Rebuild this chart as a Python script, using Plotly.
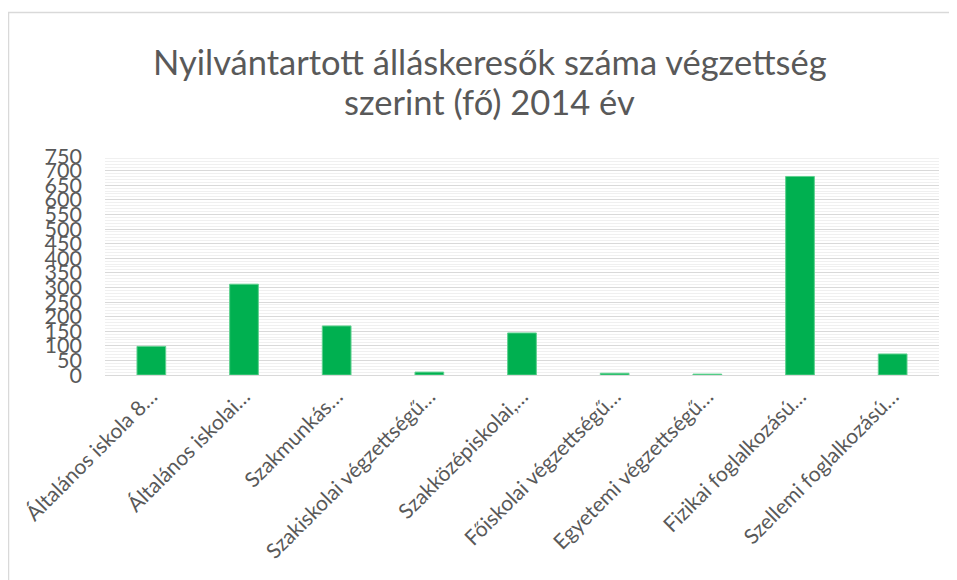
import plotly.graph_objects as go

categories = [
    "Általános iskola 8…",
    "Általános iskolai…",
    "Szakmunkás…",
    "Szakiskolai végzettségű…",
    "Szakközépiskolai,…",
    "Főiskolai végzettségű…",
    "Egyetemi végzettségű…",
    "Fizikai foglalkozású…",
    "Szellemi foglalkozású…",
]
values = [98, 311, 168, 10, 144, 6, 3, 680, 72]
y_ticks = list(range(0, 751, 50))
title_lines = ["Nyilvántartott álláskeresők száma végzettség", "szerint (fő) 2014 év"]

# page body has an 8px margin; figure is sized to fill the rest
OFF = 8
W, H = 957 - OFF, 580 - OFF
L, R, T, B = 105 - OFF, 939 - OFF, 156 - OFF, 375 - OFF

fig = go.Figure()
fig.add_trace(go.Bar(
    x=categories, y=values,
    marker=dict(color="#00b050", line=dict(color="#5fd08f", width=1)),
))

def px_x(px):
    return (px - OFF - L) / (R - L)

def px_y(py):
    return (B - (py - OFF)) / (B - T)

annotations = []
for line, yc in zip(title_lines, [61, 102]):
    annotations.append(dict(
        text=line, xref="paper", yref="paper",
        x=px_x(489.5), y=px_y(yc), xanchor="center", yanchor="middle",
        showarrow=False,
        font=dict(size=34.5, color="#595959", family="Lato, 'Open Sans', sans-serif"),
    ))

fig.update_layout(
    width=W, height=H,
    margin=dict(l=L, r=W - R, t=T, b=H - B, autoexpand=False),
    paper_bgcolor="white", plot_bgcolor="white",
    showlegend=False,
    bargap=0.69,
    font=dict(family="Lato, 'Open Sans', sans-serif", color="#595959"),
    annotations=annotations,
    xaxis=dict(
        automargin=False,
        tickangle=-45,
        tickfont=dict(size=21, color="#595959"),
        showgrid=False,
        showline=True, linecolor="#d9d9d9", linewidth=1,
        ticks="",
    ),
    yaxis=dict(
        automargin=False,
        range=[0, 750],
        tickvals=y_ticks,
        ticktext=[str(v) for v in y_ticks],
        tickfont=dict(size=21.5, color="#595959"),
        gridcolor="#d9d9d9", gridwidth=1,
        minor=dict(dtick=10, showgrid=True, gridcolor="#f0f0f0", gridwidth=1),
        zeroline=False,
        showline=False,
        ticks="",
        ticklabelstandoff=22,
    ),
    shapes=[dict(
        type="rect", xref="paper", yref="paper",
        x0=px_x(8.5), x1=px_x(1100), y0=px_y(800), y1=px_y(12.5),
        line=dict(color="#d9d9d9", width=1.5), fillcolor="rgba(0,0,0,0)",
        layer="below",
    )],
)

fig.write_html("out.html")
